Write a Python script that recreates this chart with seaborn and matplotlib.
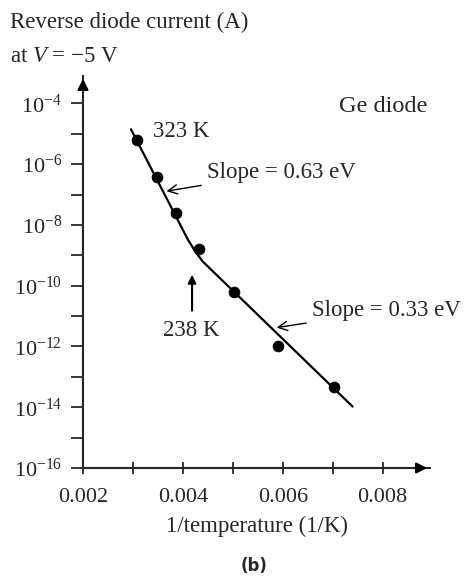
import numpy as np
import pandas as pd
import matplotlib
matplotlib.use("Agg")
import matplotlib.pyplot as plt
import seaborn as sns

# -------------------------------
# Data
# -------------------------------
inv_temp = [0.00308, 0.00349, 0.00386, 0.00433, 0.00502, 0.0059, 0.00702]
current = [6.3e-6, 3.7e-7, 2.5e-8, 1.6e-9, 6.3e-11, 1.0e-12, 4.6e-14]

fit_x = [0.00296, 0.0041, 0.00425, 0.0044, 0.0074]
fit_y = [1.41e-5, 3.3e-9, 1.32e-9, 6.2e-10, 1.05e-14]

xticks_major = [0.002, 0.004, 0.006, 0.008]
xticks_minor = [0.003, 0.005, 0.007]
xtick_labels = ["0.002", "0.004", "0.006", "0.008"]
yticks_major = [1e-16, 1e-14, 1e-12, 1e-10, 1e-8, 1e-6, 1e-4]
yticks_minor = [1e-15, 1e-13, 1e-11, 1e-9, 1e-7, 1e-5]
ytick_labels = [r"$10^{-16}$", r"$10^{-14}$", r"$10^{-12}$", r"$10^{-10}$",
                r"$10^{-8}$", r"$10^{-6}$", r"$10^{-4}$"]

points = pd.DataFrame({"inv_temp": inv_temp, "current": current})
fit = pd.DataFrame({"inv_temp": fit_x, "current": fit_y})

# -------------------------------
# Style
# -------------------------------
sns.set_style("ticks")
plt.rcParams["font.family"] = ["Liberation Serif", "DejaVu Serif"]
plt.rcParams["mathtext.fontset"] = "custom"
plt.rcParams["mathtext.rm"] = "Liberation Serif"
plt.rcParams["mathtext.it"] = "Liberation Serif:italic"
plt.rcParams["mathtext.bf"] = "Liberation Serif:bold"

FS = 16.5

fig = plt.figure(figsize=(4.65, 5.81), dpi=100)
ax = fig.add_axes([83 / 465, 1 - 468 / 581, (430 - 83) / 465, (468 - 76) / 581])
ax.set_yscale("log")

sns.lineplot(data=fit, x="inv_temp", y="current", sort=False, color="black",
             linewidth=1.6, ax=ax)
sns.scatterplot(data=points, x="inv_temp", y="current", color="black", s=60,
                edgecolor="black", ax=ax, zorder=3)

ax.set_xlim(0.002, 0.00895)
ax.set_ylim(1e-16, 10 ** -3.1)

ax.set_xticks(xticks_major)
ax.set_xticklabels(xtick_labels)
ax.set_xticks(xticks_minor, minor=True)
ax.set_yticks(yticks_major)
ax.set_yticklabels(ytick_labels)
ax.set_yticks(yticks_minor, minor=True)
ax.yaxis.set_minor_formatter(plt.NullFormatter())

ax.tick_params(axis="x", which="both", direction="inout", length=9, width=1.3,
               labelsize=FS - 0.5, pad=10)
ax.tick_params(axis="y", which="both", direction="out", length=9, width=1.3,
               labelsize=FS - 0.5, pad=6)

sns.despine(ax=ax)
for side in ["left", "bottom"]:
    ax.spines[side].set_linewidth(1.5)

# axis arrow heads
ax.annotate("", xy=(1.0, 0), xytext=(0.97, 0), xycoords="axes fraction",
            arrowprops=dict(arrowstyle="-|>", color="black", lw=1.5,
                            mutation_scale=16), annotation_clip=False)
ax.annotate("", xy=(0, 1.0), xytext=(0, 0.97), xycoords="axes fraction",
            arrowprops=dict(arrowstyle="-|>", color="black", lw=1.5,
                            mutation_scale=16), annotation_clip=False)

ax.set_xlabel("1/temperature (1/K)", fontsize=FS, labelpad=6)
ax.set_ylabel("")

# -------------------------------
# Annotations
# -------------------------------
ax.text(0.00712, 8e-5, "Ge diode", fontsize=FS + 1, va="center", ha="left")
ax.text(0.00341, 1.2e-5, "323 K", fontsize=FS, va="center", ha="left")

ax.annotate("Slope = 0.63 eV", xy=(0.003673, 10 ** -6.89),
            xytext=(0.00449, 5.5e-7), fontsize=FS, va="center", ha="left",
            arrowprops=dict(arrowstyle="->", color="black", lw=1.0,
                            shrinkA=2, shrinkB=0))
ax.annotate("", xy=(0.004184, 10 ** -9.64), xytext=(0.004184, 10 ** -10.82),
            arrowprops=dict(arrowstyle="-|>", color="black", lw=1.5,
                            mutation_scale=12, shrinkA=0, shrinkB=0))
ax.text(0.00361, 3.3e-12, "238 K", fontsize=FS, va="center", ha="left")
ax.annotate("Slope = 0.33 eV", xy=(0.005878, 10 ** -11.38),
            xytext=(0.00659, 1.5e-11), fontsize=FS, va="center", ha="left",
            arrowprops=dict(arrowstyle="->", color="black", lw=1.0,
                            shrinkA=2, shrinkB=0), annotation_clip=False)

fig.text(10 / 465, 1 - 22 / 581, "Reverse diode current (A)", fontsize=FS,
         va="center", ha="left")
fig.text(10 / 465, 1 - 57 / 581, r"at $V$ = $-$5 V", fontsize=FS,
         va="center", ha="left")
fig.text(254 / 465, 1 - 566 / 581, "(b)", fontsize=12, fontweight="bold",
         family="DejaVu Sans", va="center", ha="center")

plt.savefig("out.png", dpi=100)
plt.close()
